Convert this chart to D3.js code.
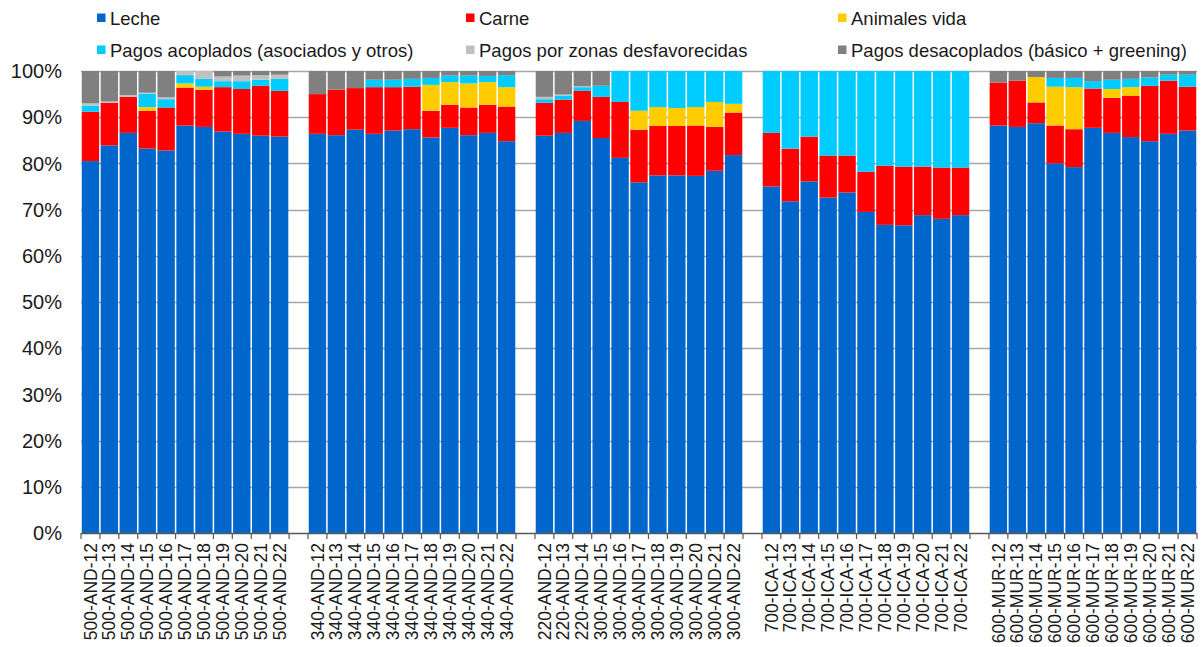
<!DOCTYPE html>
<html><head><meta charset="utf-8">
<script src="https://cdn.jsdelivr.net/npm/d3@7"></script>
<style>
html,body{margin:0;padding:0;background:#fff;}
svg{display:block;font-family:"Liberation Sans",Arial,sans-serif;}
</style></head>
<body>
<svg id="chart" width="1202" height="647"></svg>
<script>
const categories = [
 "500-AND-12","500-AND-13","500-AND-14","500-AND-15","500-AND-16","500-AND-17","500-AND-18","500-AND-19","500-AND-20","500-AND-21","500-AND-22",
 "340-AND-12","340-AND-13","340-AND-14","340-AND-15","340-AND-16","340-AND-17","340-AND-18","340-AND-19","340-AND-20","340-AND-21","340-AND-22",
 "220-AND-12","220-AND-13","220-AND-14","300-AND-15","300-AND-16","300-AND-17","300-AND-18","300-AND-19","300-AND-20","300-AND-21","300-AND-22",
 "700-ICA-12","700-ICA-13","700-ICA-14","700-ICA-15","700-ICA-16","700-ICA-17","700-ICA-18","700-ICA-19","700-ICA-20","700-ICA-21","700-ICA-22",
 "600-MUR-12","600-MUR-13","600-MUR-14","600-MUR-15","600-MUR-16","600-MUR-17","600-MUR-18","600-MUR-19","600-MUR-20","600-MUR-21","600-MUR-22"
];
const groupSize = 11;

const seriesNames = ["Leche","Carne","Animales vida","Pagos acoplados (asociados y otros)","Pagos por zonas desfavorecidas","Pagos desacoplados (básico + greening)"];
const seriesColors = ["#0066CC","#FF0000","#FFCC00","#00CCFF","#C0C0C0","#808080"];

const leche = [
 80.5,83.9,86.6,83.2,82.8,88.2,87.9,86.9,86.4,86.0,85.8,
 86.4,86.1,87.3,86.4,87.1,87.4,85.6,87.7,86.1,86.6,84.8,
 86.0,86.6,89.2,85.5,81.2,75.9,77.4,77.4,77.3,78.4,81.8,
 75.0,71.8,76.1,72.6,73.7,69.5,66.7,66.6,68.8,68.0,68.8,
 88.2,87.9,88.7,80.0,79.2,87.7,86.6,85.7,84.8,86.4,87.1
];
const carne = [
 10.7,9.2,7.8,8.2,9.3,8.2,8.0,9.6,9.7,10.8,9.9,
 8.6,9.9,9.0,10.1,9.4,9.2,5.8,5.0,6.0,6.1,7.5,
 7.1,7.2,6.5,8.9,12.1,11.4,10.7,10.7,10.9,9.5,9.2,
 11.6,11.4,9.7,9.1,8.0,8.7,12.8,12.7,10.5,11.1,10.3,
 9.3,10.0,4.5,8.2,8.2,8.5,7.6,8.9,12.0,11.5,9.5
];
const animales = [
 0,0,0,0.8,0,0.9,0.7,0,0,0,0,
 0,0,0,0,0,0,5.6,4.9,5.2,4.9,4.2,
 0,0,0,0,0,4.1,4.1,3.9,4.0,5.4,1.9,
 0,0,0,0,0,0,0,0,0,0,0,
 0,0,5.5,8.4,9.1,0,1.9,1.9,0,0,0
];
const acoplados = [
 1.3,0,0,2.9,1.8,1.8,1.7,1.3,1.7,1.3,2.6,
 0,0,0,1.6,1.6,1.7,1.5,1.4,1.7,1.3,2.6,
 0.8,0.9,0.8,2.4,6.7,8.6,7.8,8.0,7.8,6.7,7.1,
 13.4,16.8,14.2,18.3,18.3,21.8,20.5,20.7,20.7,20.9,20.9,
 0,0,0,1.9,2.0,1.6,2.0,1.8,1.8,1.3,2.6
];
const zonas = [
 0.5,0.3,0.4,0.2,0.4,0.9,1.7,1.0,1.2,1.0,0.9,
 0,0,0,0,0,0,0,0,0,0,0,
 0.5,0.2,0.2,0,0,0,0,0,0,0,0,
 0,0,0,0,0,0,0,0,0,0,0,
 0,0,0,0,0,0,0,0,0,0,0
];
const desacoplados = [
 7.0,6.6,5.2,4.7,5.7,0,0,1.2,1.0,0.9,0.8,
 5.0,4.0,3.7,1.9,1.9,1.7,1.5,1.0,1.0,1.1,0.9,
 5.6,5.1,3.3,3.2,0,0,0,0,0,0,0,
 0,0,0,0,0,0,0,0,0,0,0,
 2.5,2.1,1.3,1.5,1.5,2.2,1.9,1.7,1.4,0.8,0.8
];
const yTicks = [0,10,20,30,40,50,60,70,80,90,100];

const svg = d3.select("#chart");
const margin = {left:81, right:5, top:71, bottom:114};
const W = 1202, H = 647;
const plotW = W - margin.left - margin.right;
const plotH = H - margin.top - margin.bottom;

// slots including one empty slot between groups
const nGroups = Math.ceil(categories.length / groupSize);
const nSlots = categories.length + nGroups - 1;
const slotOf = i => i + Math.floor(i / groupSize);
const slots = d3.range(nSlots);

const x = d3.scaleBand().domain(slots).range([margin.left, margin.left + plotW])
  .paddingInner(0.08).paddingOuter(0.04);
const step = x.step();
const y = d3.scaleLinear().domain([0,100]).range([margin.top + plotH, margin.top]);

const keys = ["leche","carne","animales","acoplados","zonas","desacoplados"];
const arrays = [leche,carne,animales,acoplados,zonas,desacoplados];
const rows = categories.map((c,i) => {
  const r = {cat:c, slot:slotOf(i)};
  keys.forEach((k,j) => r[k] = arrays[j][i]);
  return r;
});
const stacked = d3.stack().keys(keys)(rows);

// gridlines
const g = svg.append("g");
g.selectAll("line.grid").data(yTicks.filter(t=>t>0)).enter().append("line")
  .attr("x1", margin.left).attr("x2", margin.left + plotW)
  .attr("y1", d=>Math.round(y(d))+0.5).attr("y2", d=>Math.round(y(d))+0.5)
  .attr("stroke","#A6A6A6").attr("stroke-width",1.3);

// y labels
g.selectAll("text.yl").data(yTicks).enter().append("text")
  .attr("x", 62).attr("y", d=>y(d)).attr("dy","0.36em")
  .attr("text-anchor","end").attr("font-size","20px").attr("fill","#1a1a1a")
  .text(d=>d+"%");

// bars
svg.append("g").selectAll("g").data(stacked).enter().append("g")
  .attr("fill",(d,i)=>seriesColors[i])
  .selectAll("rect").data(d=>d).enter().append("rect")
  .attr("x", d=>x(d.data.slot))
  .attr("width", x.bandwidth())
  .attr("y", d=>y(d[1]))
  .attr("height", d=>Math.max(0, y(d[0]) - y(d[1])));

// x axis line and ticks at slot boundaries
const axisY = y(0);
svg.append("line").attr("x1", margin.left).attr("x2", margin.left + plotW)
  .attr("y1", axisY+0.5).attr("y2", axisY+0.5).attr("stroke","#595959").attr("stroke-width",1.3);
svg.append("g").selectAll("line").data(d3.range(nSlots+1)).enter().append("line")
  .attr("x1", d=>margin.left + d*step).attr("x2", d=>margin.left + d*step)
  .attr("y1", axisY).attr("y2", axisY+6)
  .attr("stroke","#595959").attr("stroke-width",1.2);

// x labels
svg.append("g").selectAll("text").data(rows).enter().append("text")
  .attr("transform", d=>`translate(${x(d.slot)+x.bandwidth()/2},${axisY+10}) rotate(-90)`)
  .attr("text-anchor","end").attr("dy","0.35em")
  .attr("font-size","17.5px").attr("fill","#1a1a1a")
  .text(d=>d.cat);

// legend
const legX = [97, 466, 838];
const legY = [18, 50];
const leg = svg.append("g");
seriesNames.forEach((name,i) => {
  const lx = legX[i%3], ly = legY[Math.floor(i/3)];
  leg.append("rect").attr("x", lx).attr("y", ly-4.5).attr("width",8.5).attr("height",8.5)
    .attr("fill", seriesColors[i]);
  leg.append("text").attr("x", lx+13).attr("y", ly).attr("dy","0.36em")
    .attr("font-size","18.5px").attr("fill","#1a1a1a").text(name);
});
</script>
</body></html>
